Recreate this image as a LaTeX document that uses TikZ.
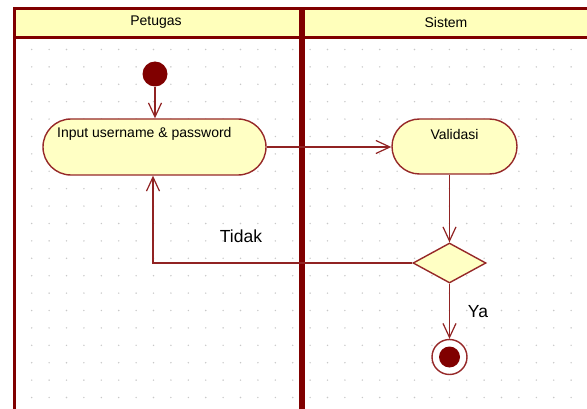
\documentclass[tikz,border=0pt]{standalone}
\usepackage{fontspec}
\setmainfont{Liberation Sans}
\usetikzlibrary{arrows.meta,shapes.geometric,calc}

\definecolor{laneline}{RGB}{128,0,0}
\definecolor{headfill}{RGB}{255,255,187}
\definecolor{actfill}{RGB}{255,255,196}
\definecolor{actline}{RGB}{150,40,40}
\definecolor{flowline}{RGB}{145,35,35}
\definecolor{dotgray}{RGB}{200,200,200}

\tikzset{
  lanetext/.style={font=\fontsize{14}{16}\selectfont, inner sep=0pt},
  guardtext/.style={font=\fontsize{17.5}{20}\selectfont, inner sep=0pt},
  action/.style={rectangle, draw=actline, fill=actfill, line width=1.4pt, inner sep=0pt},
  decision/.style={diamond, draw=actline, fill=actfill, line width=1.4pt, inner sep=0pt,
                   minimum width=73pt, minimum height=40pt},
  initnode/.style={circle, fill=laneline, inner sep=0pt, minimum size=25pt},
  finalnode/.style={circle, draw=actline, fill=white, line width=1.4pt, inner sep=0pt, minimum size=35pt},
  flow/.style={draw=flowline, line width=1.4pt,
               -{Straight Barb[length=14pt, width=13pt, line width=1.2pt]}},
}

\begin{document}
\begin{tikzpicture}[x=1pt, y=-1pt]
\useasboundingbox (0,0) rectangle (587,409);
\fill[white] (0,0) rectangle (587,409);

% background dot grid
\foreach \i in {0,...,32}
  \foreach \j in {0,...,21}
    \fill[dotgray] ({31.7+17.4*\i},{49.5+17.4*\j}) circle (0.8pt);

% swimlane frame and headers
\fill[headfill] (14,9) rectangle (600,37.5);
\draw[laneline, line width=3pt] (14,430) -- (14,9) -- (600,9);
\draw[laneline, line width=3pt] (14,37.5) -- (600,37.5);
\draw[laneline, line width=5.5pt] (302,9) -- (302,430);
\node[lanetext] (hpetugas) at (156,22) {Petugas};
\node[lanetext] (hsistem) at (446,22) {Sistem};

% activity nodes
\node[initnode] (start) at (155,74) {};
\node[action, rounded corners=28pt, minimum width=223pt, minimum height=56pt] (inp) at (154.5,147) {};
\node[lanetext, anchor=west] (inptext) at (57,133.5) {Input username \& password};
\node[action, rounded corners=27.5pt, minimum width=125pt, minimum height=55pt] (val) at (454.5,146.5) {};
\node[lanetext] (valtext) at (454.5,134) {Validasi};
\node[decision] (dec) at (449.5,263) {};
\node[finalnode] (end) at (449.5,357) {};
\fill[laneline] (end.center) circle (10.5pt);

% control flows
\draw[flow] (start.south) -- (start.south |- inp.north);
\draw[flow] (inp.east) -- (inp.east -| val.west);
\draw[flow] (dec.north |- val.south) -- (dec.north);
\draw[flow] (dec.west) -| ($(inp.south)+(-1.5,0)$);
\draw[flow] (dec.south) -- (end.north);

% guard labels
\node[guardtext] (tidak) at (241,236) {Tidak};
\node[guardtext] (ya) at (478,312) {Ya};
\end{tikzpicture}
\end{document}
